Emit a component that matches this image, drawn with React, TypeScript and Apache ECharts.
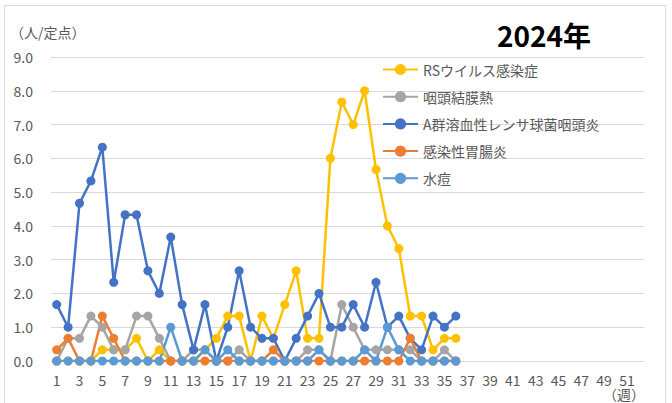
import React, { useEffect, useRef } from "react";
import * as echarts from "echarts";

const weeks: string[] = Array.from({ length: 52 }, (_, i) => String(i + 1));

const seriesNames = [
  "RSウイルス感染症",
  "咽頭結膜熱",
  "A群溶血性レンサ球菌咽頭炎",
  "感染性胃腸炎",
  "水痘",
];

const rsValues = [0, 0, 0, 0, 0.33, 0.33, 0.33, 0.67, 0, 0.33, 0, 0, 0, 0.33, 0.67, 1.33, 1.33, 0, 1.33, 0.67, 1.67, 2.67, 0.67, 0.67, 6.0, 7.67, 7.0, 8.0, 5.67, 4.0, 3.33, 1.33, 1.33, 0.33, 0.67, 0.67];
const pcfValues = [0, 0.67, 0.67, 1.33, 1.0, 0.33, 0.33, 1.33, 1.33, 0.67, 0, 0, 0.33, 0.33, 0, 0, 0.33, 0, 0, 0, 0, 0, 0.33, 0.33, 0, 1.67, 1.0, 0.33, 0.33, 0.33, 0.33, 0.33, 0, 0, 0.33, 0];
const strepValues = [1.67, 1.0, 4.67, 5.33, 6.33, 2.33, 4.33, 4.33, 2.67, 2.0, 3.67, 1.67, 0.33, 1.67, 0, 1.0, 2.67, 1.0, 0.67, 0.67, 0, 0.67, 1.33, 2.0, 1.0, 1.0, 1.67, 1.0, 2.33, 1.0, 1.33, 0.67, 0.33, 1.33, 1.0, 1.33];
const gastroValues = [0.33, 0.67, 0, 0, 1.33, 0.67, 0, 0, 0, 0, 0, 0, 0, 0, 0, 0, 0, 0, 0, 0.33, 0, 0, 0, 0, 0, 0, 0, 0, 0, 0, 0, 0.67, 0, 0, 0, 0];
const varicellaValues = [0, 0, 0, 0, 0, 0, 0, 0, 0, 0, 1.0, 0, 0, 0.33, 0, 0.33, 0, 0, 0, 0, 0, 0, 0, 0.33, 0, 0, 0, 0.33, 0, 1.0, 0.33, 0, 0, 0, 0, 0];

const colors = ["#FFC000", "#A5A5A5", "#4472C4", "#ED7D31", "#5B9BD5"];
const FONT = "'Noto Sans CJK JP', 'Noto Sans', sans-serif";

export default function App() {
  const ref = useRef<HTMLDivElement>(null);
  useEffect(() => {
    if (!ref.current) return;
    const chart = echarts.init(ref.current, undefined, { renderer: "svg" });
    const allData = [rsValues, pcfValues, strepValues, gastroValues, varicellaValues];
    chart.setOption({
      animation: false,
      backgroundColor: "#ffffff",
      textStyle: { fontFamily: FONT },
      grid: { left: 51, right: 28, top: 57, bottom: 42, containLabel: false },
      legend: {
        orient: "vertical",
        left: 382,
        top: 62.5,
        padding: 0,
        itemWidth: 35,
        itemHeight: 14,
        itemGap: 13.2,
        textStyle: { color: "#595959", fontSize: 14, fontFamily: FONT, lineHeight: 14 },
        data: seriesNames,
      },
      xAxis: {
        type: "category",
        data: weeks,
        boundaryGap: true,
        axisLine: { show: false },
        axisTick: { show: false },
        axisLabel: { interval: 1, color: "#595959", fontSize: 14, fontFamily: FONT, margin: 12 },
        splitLine: { show: false },
      },
      yAxis: {
        type: "value",
        min: 0,
        max: 9,
        interval: 1,
        axisLine: { show: false },
        axisTick: { show: false },
        axisLabel: {
          color: "#595959",
          fontSize: 14,
          fontFamily: FONT,
          margin: 18,
          formatter: (v: number) => v.toFixed(1),
        },
        splitLine: { lineStyle: { color: "#D9D9D9", width: 1 } },
      },
      series: seriesNames.map((name, i) => ({
        name,
        type: "line",
        data: allData[i],
        symbol: "circle",
        symbolSize: 9,
        showSymbol: true,
        showAllSymbol: true,
        lineStyle: { color: colors[i], width: 2.5 },
        itemStyle: { color: colors[i] },
        emphasis: { disabled: true },
      })),
      graphic: [
        {
          type: "rect",
          shape: { x: 4.5, y: 5.5, width: 661, height: 410 },
          style: { fill: "none", stroke: "#D9D9D9", lineWidth: 1 },
          silent: true,
        },
        {
          type: "text",
          x: 10,
          y: 25,
          style: { text: "（人/定点）", fill: "#595959", font: `14px ${FONT}` },
        },
        {
          type: "text",
          x: 497,
          y: 21,
          style: { text: "2024年", fill: "#000000", font: `bold 28px ${FONT}` },
        },
        {
          type: "text",
          x: 603,
          y: 394,
          style: {
            text: "（週）",
            fill: "#595959",
            font: `14px ${FONT}`,
            verticalAlign: "middle",
          },
        },
      ],
    });
    return () => chart.dispose();
  }, []);
  return (
    <div
      ref={ref}
      style={{ position: "fixed", left: 0, top: 0, width: 672, height: 403, background: "#fff" }}
    />
  );
}
